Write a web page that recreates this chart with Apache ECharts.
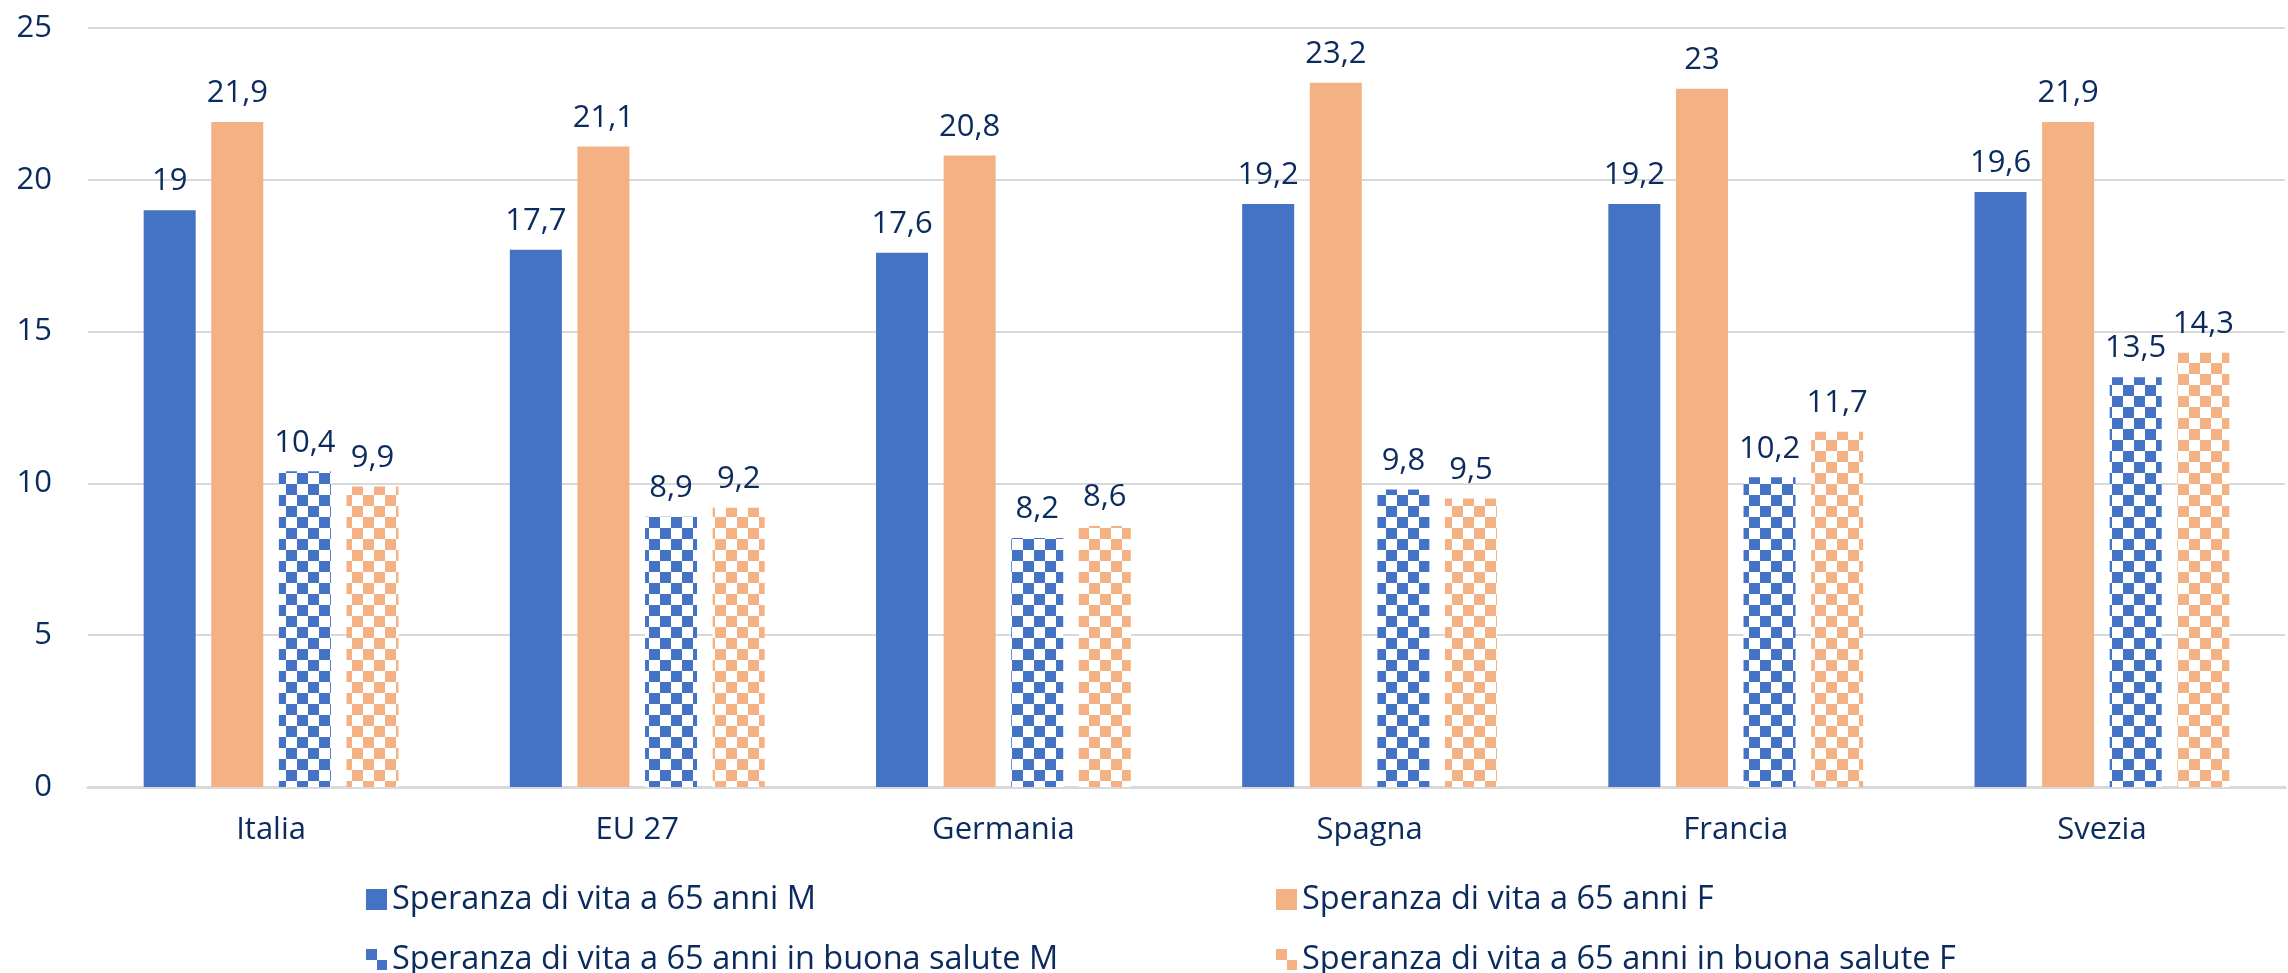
<!DOCTYPE html>
<html>
<head>
<meta charset="utf-8">
<script src="https://cdn.jsdelivr.net/npm/echarts@6/dist/echarts.min.js"></script>
<style>
html,body{margin:0;padding:0;background:#fff;}
#c{width:2288px;height:973px;}
</style>
</head>
<body>
<div id="c"></div>
<script>
const categories = ['Italia', 'EU 27', 'Germania', 'Spagna', 'Francia', 'Svezia'];
const seriesNames = [
  'Speranza di vita a 65 anni M',
  'Speranza di vita a 65 anni F',
  'Speranza di vita a 65 anni in buona salute M',
  'Speranza di vita a 65 anni in buona salute F'
];
const lifeM = [19, 17.7, 17.6, 19.2, 19.2, 19.6];
const lifeF = [21.9, 21.1, 20.8, 23.2, 23, 21.9];
const healthyM = [10.4, 8.9, 8.2, 9.8, 10.2, 13.5];
const healthyF = [9.9, 9.2, 8.6, 9.5, 11.7, 14.3];
const yTicks = [0, 5, 10, 15, 20, 25];

const BLUE = '#4472C4';
const ORANGE = '#F4B183';
const TEXT = '#0B2A5E';
const FONT = 'Open Sans';

function checker(color) {
  const s = 11;
  const cv = document.createElement('canvas');
  cv.width = s * 2; cv.height = s * 2;
  const ctx = cv.getContext('2d');
  ctx.fillStyle = '#ffffff';
  ctx.fillRect(0, 0, s * 2, s * 2);
  ctx.fillStyle = color;
  ctx.fillRect(0, 0, s, s);
  ctx.fillRect(s, s, s, s);
  return { image: cv, repeat: 'repeat' };
}

const label = {
  show: true,
  position: 'top',
  distance: 13,
  color: TEXT,
  fontFamily: FONT,
  fontSize: 31,
  formatter: p => String(p.value).replace('.', ',')
};

function bar(name, data, color) {
  return {
    name: name,
    type: 'bar',
    data: data,
    barWidth: 52,
    barGap: '30%',
    itemStyle: { color: color },
    label: label
  };
}

function legendAt(name, left, top) {
  return {
    left: left, top: top, orient: 'horizontal',
    icon: 'rect',
    itemWidth: 21, itemHeight: 21, itemGap: 10,
    textStyle: { color: TEXT, fontFamily: FONT, fontSize: 32.5 },
    data: [name]
  };
}

const chart = echarts.init(document.getElementById('c'));
chart.setOption({
  backgroundColor: '#ffffff',
  animation: false,
  textStyle: { fontFamily: FONT },
  grid: { left: 88, right: 3, top: 28, bottom: 186, containLabel: false },
  legend: [
    legendAt(seriesNames[0], 361, 878),
    legendAt(seriesNames[1], 1271, 878),
    legendAt(seriesNames[2], 361, 938),
    legendAt(seriesNames[3], 1271, 938)
  ],
  xAxis: {
    type: 'category',
    data: categories,
    axisLine: { lineStyle: { color: '#D9D9D9', width: 3 } },
    axisTick: { show: false },
    axisLabel: { color: TEXT, fontFamily: FONT, fontSize: 31, margin: 28 }
  },
  yAxis: {
    type: 'value',
    min: yTicks[0],
    max: yTicks[yTicks.length - 1],
    interval: yTicks[1] - yTicks[0],
    axisLine: { show: false },
    axisTick: { show: false },
    splitLine: { lineStyle: { color: '#D9D9D9', width: 2 } },
    axisLabel: { color: TEXT, fontFamily: FONT, fontSize: 31, margin: 36 }
  },
  series: [
    bar(seriesNames[0], lifeM, BLUE),
    bar(seriesNames[1], lifeF, ORANGE),
    bar(seriesNames[2], healthyM, checker(BLUE)),
    bar(seriesNames[3], healthyF, checker(ORANGE))
  ]
});
</script>
</body>
</html>
